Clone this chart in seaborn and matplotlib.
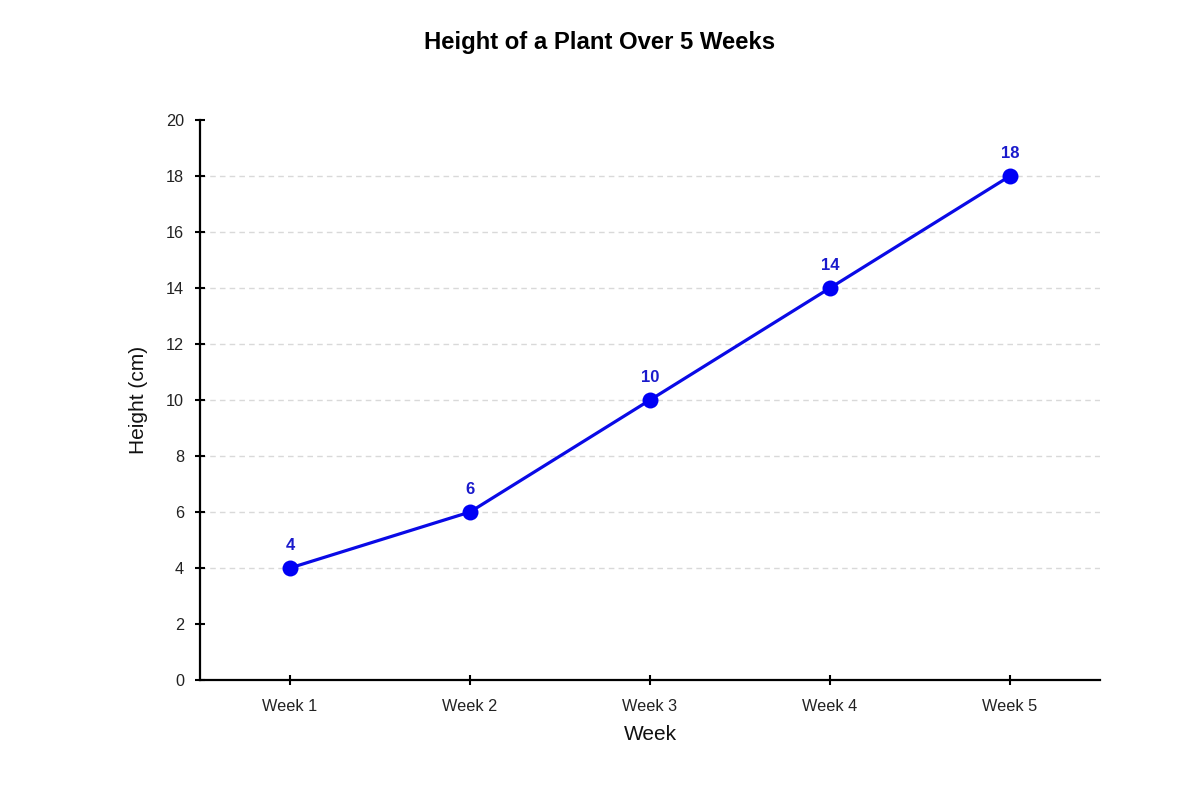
import matplotlib
matplotlib.use("Agg")
import matplotlib.pyplot as plt
import seaborn as sns
import pandas as pd

weeks = ["Week 1", "Week 2", "Week 3", "Week 4", "Week 5"]
heights = [4, 6, 10, 14, 18]
y_ticks = [0, 2, 4, 6, 8, 10, 12, 14, 16, 18, 20]

df = pd.DataFrame({"Week": weeks, "Height": heights})

sns.set_theme(style="white")
plt.rcParams["font.family"] = ["Liberation Sans", "DejaVu Sans"]

fig = plt.figure(figsize=(12, 8), dpi=100)
ax = fig.add_axes([200/1200, 120/800, 900/1200, 560/800])

sns.lineplot(data=df, x="Week", y="Height", ax=ax, color="#0a0ae6",
             linewidth=2.3, marker="o", markersize=11.5,
             markeredgewidth=0, markerfacecolor="#0000f5", sort=False)

for i, (w, h) in enumerate(zip(weeks, heights)):
    ax.annotate(str(h), (i, h), xytext=(0, 16), textcoords="offset points",
                ha="center", va="center", fontsize=12, fontweight="bold",
                color="#1a1acc")

ax.set_xlim(-0.5, len(weeks) - 0.5)
ax.set_ylim(0, 20)
ax.set_yticks(y_ticks)
ax.set_yticklabels([str(t) for t in y_ticks])

ax.grid(axis="y", color="#d9d9d9", linestyle=(0, (4, 3)), linewidth=1)
ax.grid(axis="x", visible=False)
for t, gl in zip(ax.yaxis.get_major_ticks(), y_ticks):
    if gl in (0, 2, 20):
        t.gridline.set_visible(False)

for s in ["top", "right"]:
    ax.spines[s].set_visible(False)
for s in ["left", "bottom"]:
    ax.spines[s].set_color("black")
    ax.spines[s].set_linewidth(1.6)

ax.tick_params(axis="both", direction="inout", length=7, width=1.5,
               color="black", labelsize=11.7, labelcolor="#222222",
               bottom=True, left=True)
ax.tick_params(axis="y", pad=8)
ax.tick_params(axis="x", pad=10)

ax.set_xlabel("Week", fontsize=15, labelpad=8, color="#111111")
ax.set_ylabel("Height (cm)", fontsize=15, labelpad=13, color="#111111")

fig.text(0.5, 1 - 42/800, "Height of a Plant Over 5 Weeks", ha="center",
         va="center", fontsize=17.2, fontweight="bold", color="black")

fig.savefig("out.png", dpi=100, facecolor="white")
